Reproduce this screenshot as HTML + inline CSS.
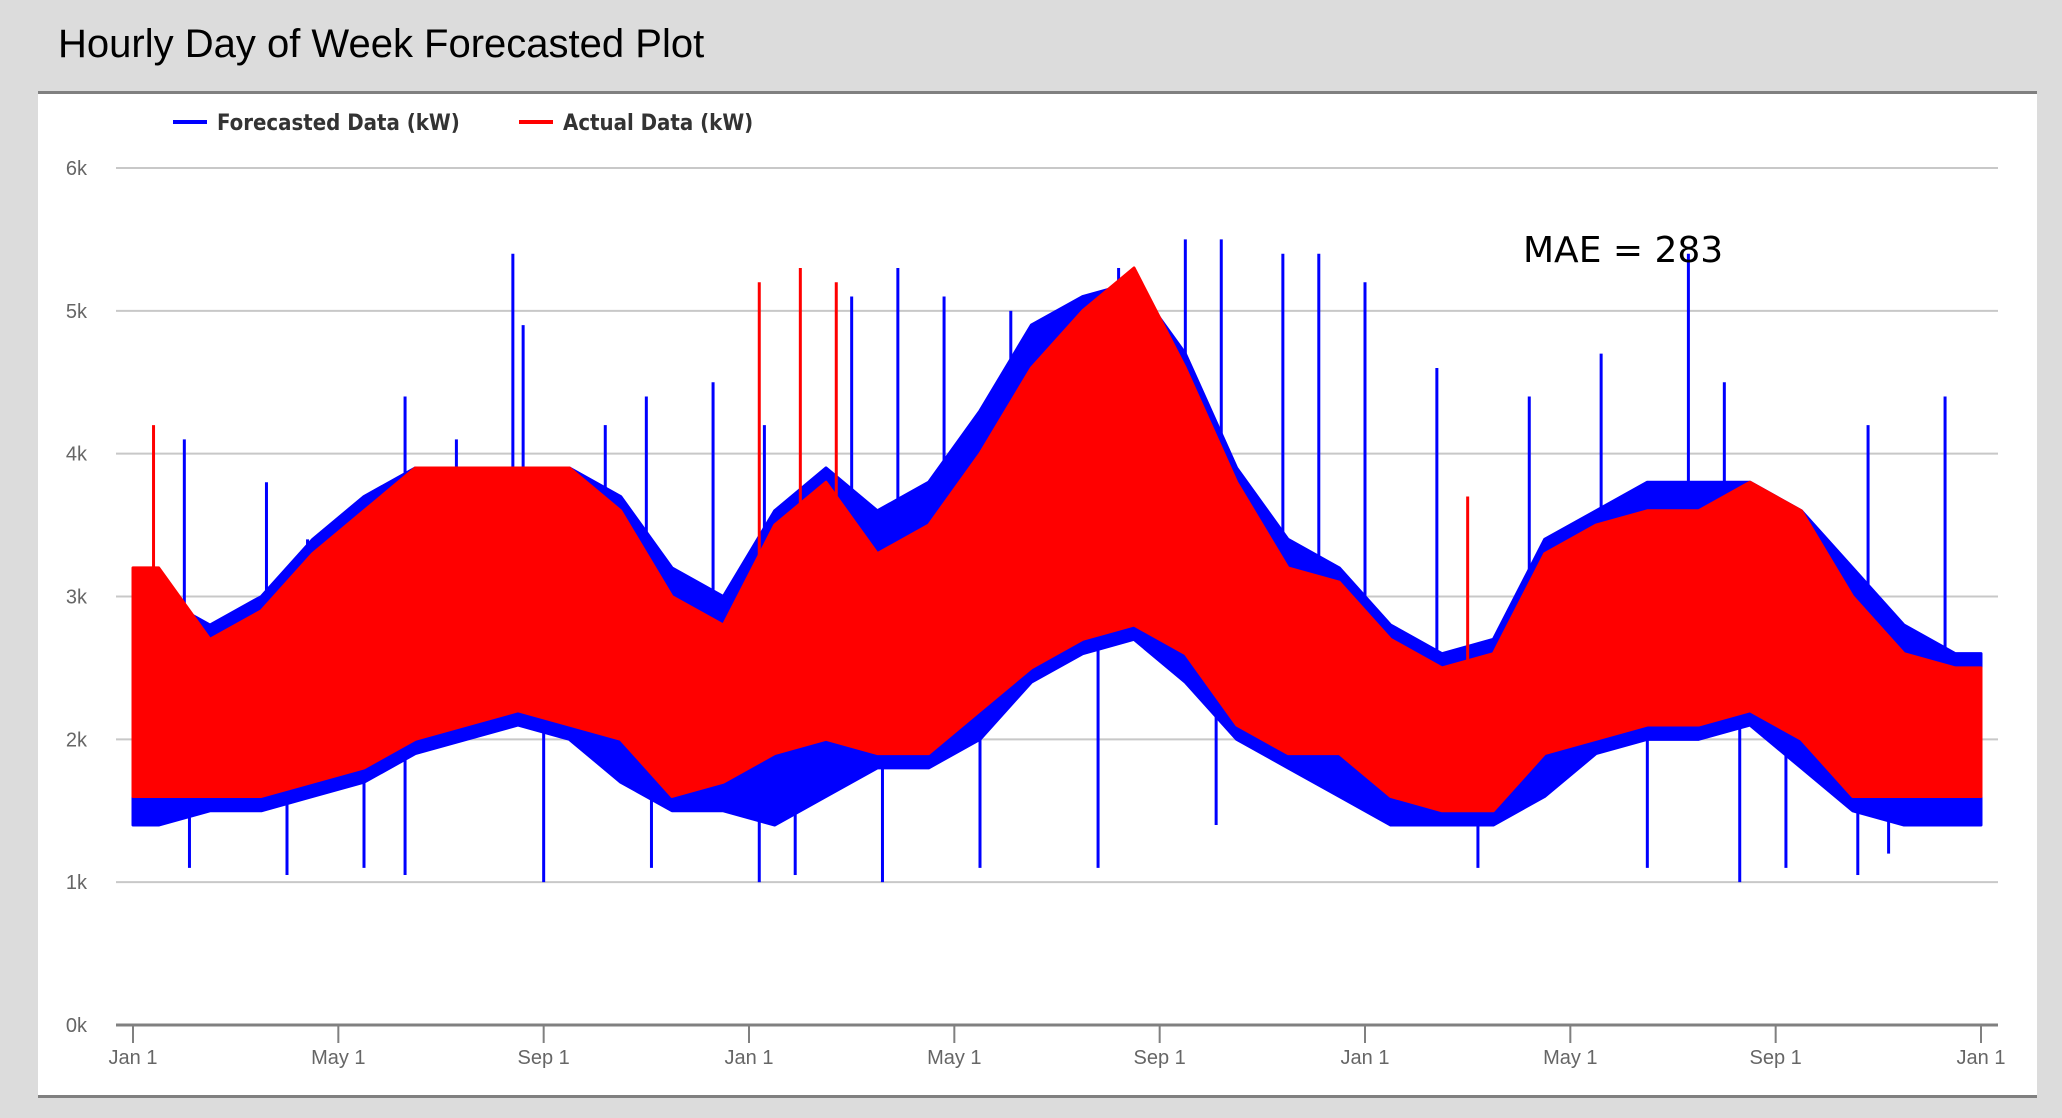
<!DOCTYPE html>
<html><head><meta charset="utf-8">
<style>
body{margin:0;background:#dcdcdc;width:2062px;height:1118px;overflow:hidden;font-family:"Liberation Sans",sans-serif;}
#title{position:absolute;left:58px;top:22px;font-size:40px;color:#000;}
#panel{position:absolute;left:38px;top:91px;width:1999px;height:1001px;background:#fff;border-top:3px solid #808080;border-bottom:3px solid #808080;}
svg{position:absolute;left:0;top:0;}
</style></head>
<body>
<div id="title">Hourly Day of Week Forecasted Plot</div>
<div id="panel"></div>
<svg id="chart" width="2062" height="1118"></svg>
<script>
const yTicks=[0,1,2,3,4,5,6];
const yTickLabels=["0k","1k","2k","3k","4k","5k","6k"];
const xTickMonths=[0,4,8,12,16,20,24,28,32,36];
const xTickLabels=["Jan 1","May 1","Sep 1","Jan 1","May 1","Sep 1","Jan 1","May 1","Sep 1","Jan 1"];
// monthly envelopes (kW thousands), 36 months
const actualLow=[1.6,1.6,1.6,1.7,1.8,2.0,2.1,2.2,2.1,2.0,1.6,1.7, 1.9,2.0,1.9,1.9,2.2,2.5,2.7,2.8,2.6,2.1,1.9,1.9, 1.6,1.5,1.5,1.9,2.0,2.1,2.1,2.2,2.0,1.6,1.6,1.6];
const actualHigh=[3.2,2.7,2.9,3.3,3.6,3.9,3.9,3.9,3.9,3.6,3.0,2.8, 3.5,3.8,3.3,3.5,4.0,4.6,5.0,5.3,4.6,3.8,3.2,3.1, 2.7,2.5,2.6,3.3,3.5,3.6,3.6,3.8,3.6,3.0,2.6,2.5];
const forecastLow=[1.4,1.5,1.5,1.6,1.7,1.9,2.0,2.1,2.0,1.7,1.5,1.5, 1.4,1.6,1.8,1.8,2.0,2.4,2.6,2.7,2.4,2.0,1.8,1.6, 1.4,1.4,1.4,1.6,1.9,2.0,2.0,2.1,1.8,1.5,1.4,1.4];
const forecastHigh=[3.0,2.8,3.0,3.4,3.7,3.9,3.9,3.9,3.9,3.7,3.2,3.0, 3.6,3.9,3.6,3.8,4.3,4.9,5.1,5.2,4.7,3.9,3.4,3.2, 2.8,2.6,2.7,3.4,3.6,3.8,3.8,3.8,3.6,3.2,2.8,2.6];
const forecastSpikeMonth=[1.0,2.6,3.4,5.3,6.3,7.4,7.6,9.2,10.0,11.3,12.3,14.0,14.9,15.8,17.1,18.0,19.2,20.5,21.2,22.4,23.1,24.0,25.4,27.2,28.6,30.3,31.0,33.8,35.3, 1.1,3.0,4.5,5.3,8.0,10.1,12.2,12.9,14.6,16.5,18.8,21.1,26.2,29.5,31.3,32.2,33.6,34.2];
const forecastSpikeValue=[4.1,3.8,3.4,4.4,4.1,5.4,4.9,4.2,4.4,4.5,4.2,5.1,5.3,5.1,5.0,4.5,5.3,5.5,5.5,5.4,5.4,5.2,4.6,4.4,4.7,5.4,4.5,4.2,4.4, 1.1,1.05,1.1,1.05,1.0,1.1,1.0,1.05,1.0,1.1,1.1,1.4,1.1,1.1,1.0,1.1,1.05,1.2];
const actualSpikeMonth=[0.4,12.2,13.0,13.7,18.6,26.0];
const actualSpikeValue=[4.2,5.2,5.3,5.2,5.0,3.7];
const maeValue=283;

const NS="http://www.w3.org/2000/svg";
const svg=document.getElementById('chart');
const X0=133,X1=1981,Y0=1025,Y6=168;
function xScale(m){return X0+(X1-X0)*m/36;}
function yScale(v){return Y0-(Y0-Y6)*v/6;}
function mk(tag,attrs,parent){const e=document.createElementNS(NS,tag);for(const k in attrs)e.setAttribute(k,attrs[k]);(parent||svg).appendChild(e);return e;}

yTicks.forEach((t,i)=>{
  if(t>0){const g=mk('line',{x1:116,x2:1998,y1:yScale(t),y2:yScale(t),stroke:'#c8c8c8','stroke-width':2});
  
  }
  const tx=mk('text',{x:87,y:yScale(t)+7,'text-anchor':'end','font-size':20,fill:'#666','font-family':'Liberation Sans, sans-serif'});
  tx.textContent=yTickLabels[i];
  
  
});
const ax=mk('line',{x1:116,x2:1998,y1:Y0,y2:Y0,stroke:'#808080','stroke-width':3});


xTickMonths.forEach((m,i)=>{
  const tk=mk('line',{x1:xScale(m),x2:xScale(m),y1:Y0,y2:Y0+18,stroke:'#808080','stroke-width':2});
  
  
  const tx=mk('text',{x:xScale(m),y:Y0+39,'text-anchor':'middle','font-size':20,fill:'#666','font-family':'Liberation Sans, sans-serif'});
  tx.textContent=xTickLabels[i];
  
  
});
function band(lo,hi,color,name){
  let pts=[];
  const n=lo.length;
  pts.push([xScale(0),yScale(hi[0])]);
  for(let i=0;i<n;i++){pts.push([xScale(i+0.5),yScale(hi[i])]);}
  pts.push([xScale(n),yScale(hi[n-1])]);
  pts.push([xScale(n),yScale(lo[n-1])]);
  for(let i=n-1;i>=0;i--){pts.push([xScale(i+0.5),yScale(lo[i])]);}
  pts.push([xScale(0),yScale(lo[0])]);
  const p=mk('polygon',{points:pts.map(p=>p.join(',')).join(' '),fill:color,stroke:color,'stroke-width':3,'stroke-linejoin':'round'});
  
  
}
function envAt(arr,m){
  const t=Math.max(0,Math.min(arr.length-1,m-0.5));
  const i=Math.floor(t),j=Math.min(arr.length-1,i+1),f=t-i;
  return arr[i]*(1-f)+arr[j]*f;
}
function spikes(ms,vs,lo,hi,color,name){
  ms.forEach((m,i)=>{
    const h=envAt(hi,m),l0=envAt(lo,m);
    const base=vs[i]>h?h:l0;
    const l=mk('line',{x1:xScale(m),x2:xScale(m),y1:yScale(base),y2:yScale(vs[i]),stroke:color,'stroke-width':3});
    
    
  });
}
band(forecastLow,forecastHigh,'#0000ff','forecast-series');
spikes(forecastSpikeMonth,forecastSpikeValue,forecastLow,forecastHigh,'#0000ff','forecast-spike');
band(actualLow,actualHigh,'#ff0000','actual-series');
spikes(actualSpikeMonth,actualSpikeValue,actualLow,actualHigh,'#ff0000','actual-spike');

const mae=mk('text',{x:1523,y:262,'font-size':36,fill:'#000','font-family':'DejaVu Sans, sans-serif'});
mae.textContent='MAE = '+maeValue;



const legend=[["Forecasted Data (kW)",'#0000ff',173],["Actual Data (kW)",'#ff0000',519]];
legend.forEach(l=>{
  const g=mk('g',{});
  
  
  mk('line',{x1:l[2],x2:l[2]+34,y1:122,y2:122,stroke:l[1],'stroke-width':4},g);
  const t=mk('text',{x:l[2]+44,y:130,'font-size':22,'font-weight':'bold',fill:'#333','font-family':'DejaVu Sans Condensed, DejaVu Sans, sans-serif'},g);
  t.textContent=l[0];
});
</script>
</body></html>
